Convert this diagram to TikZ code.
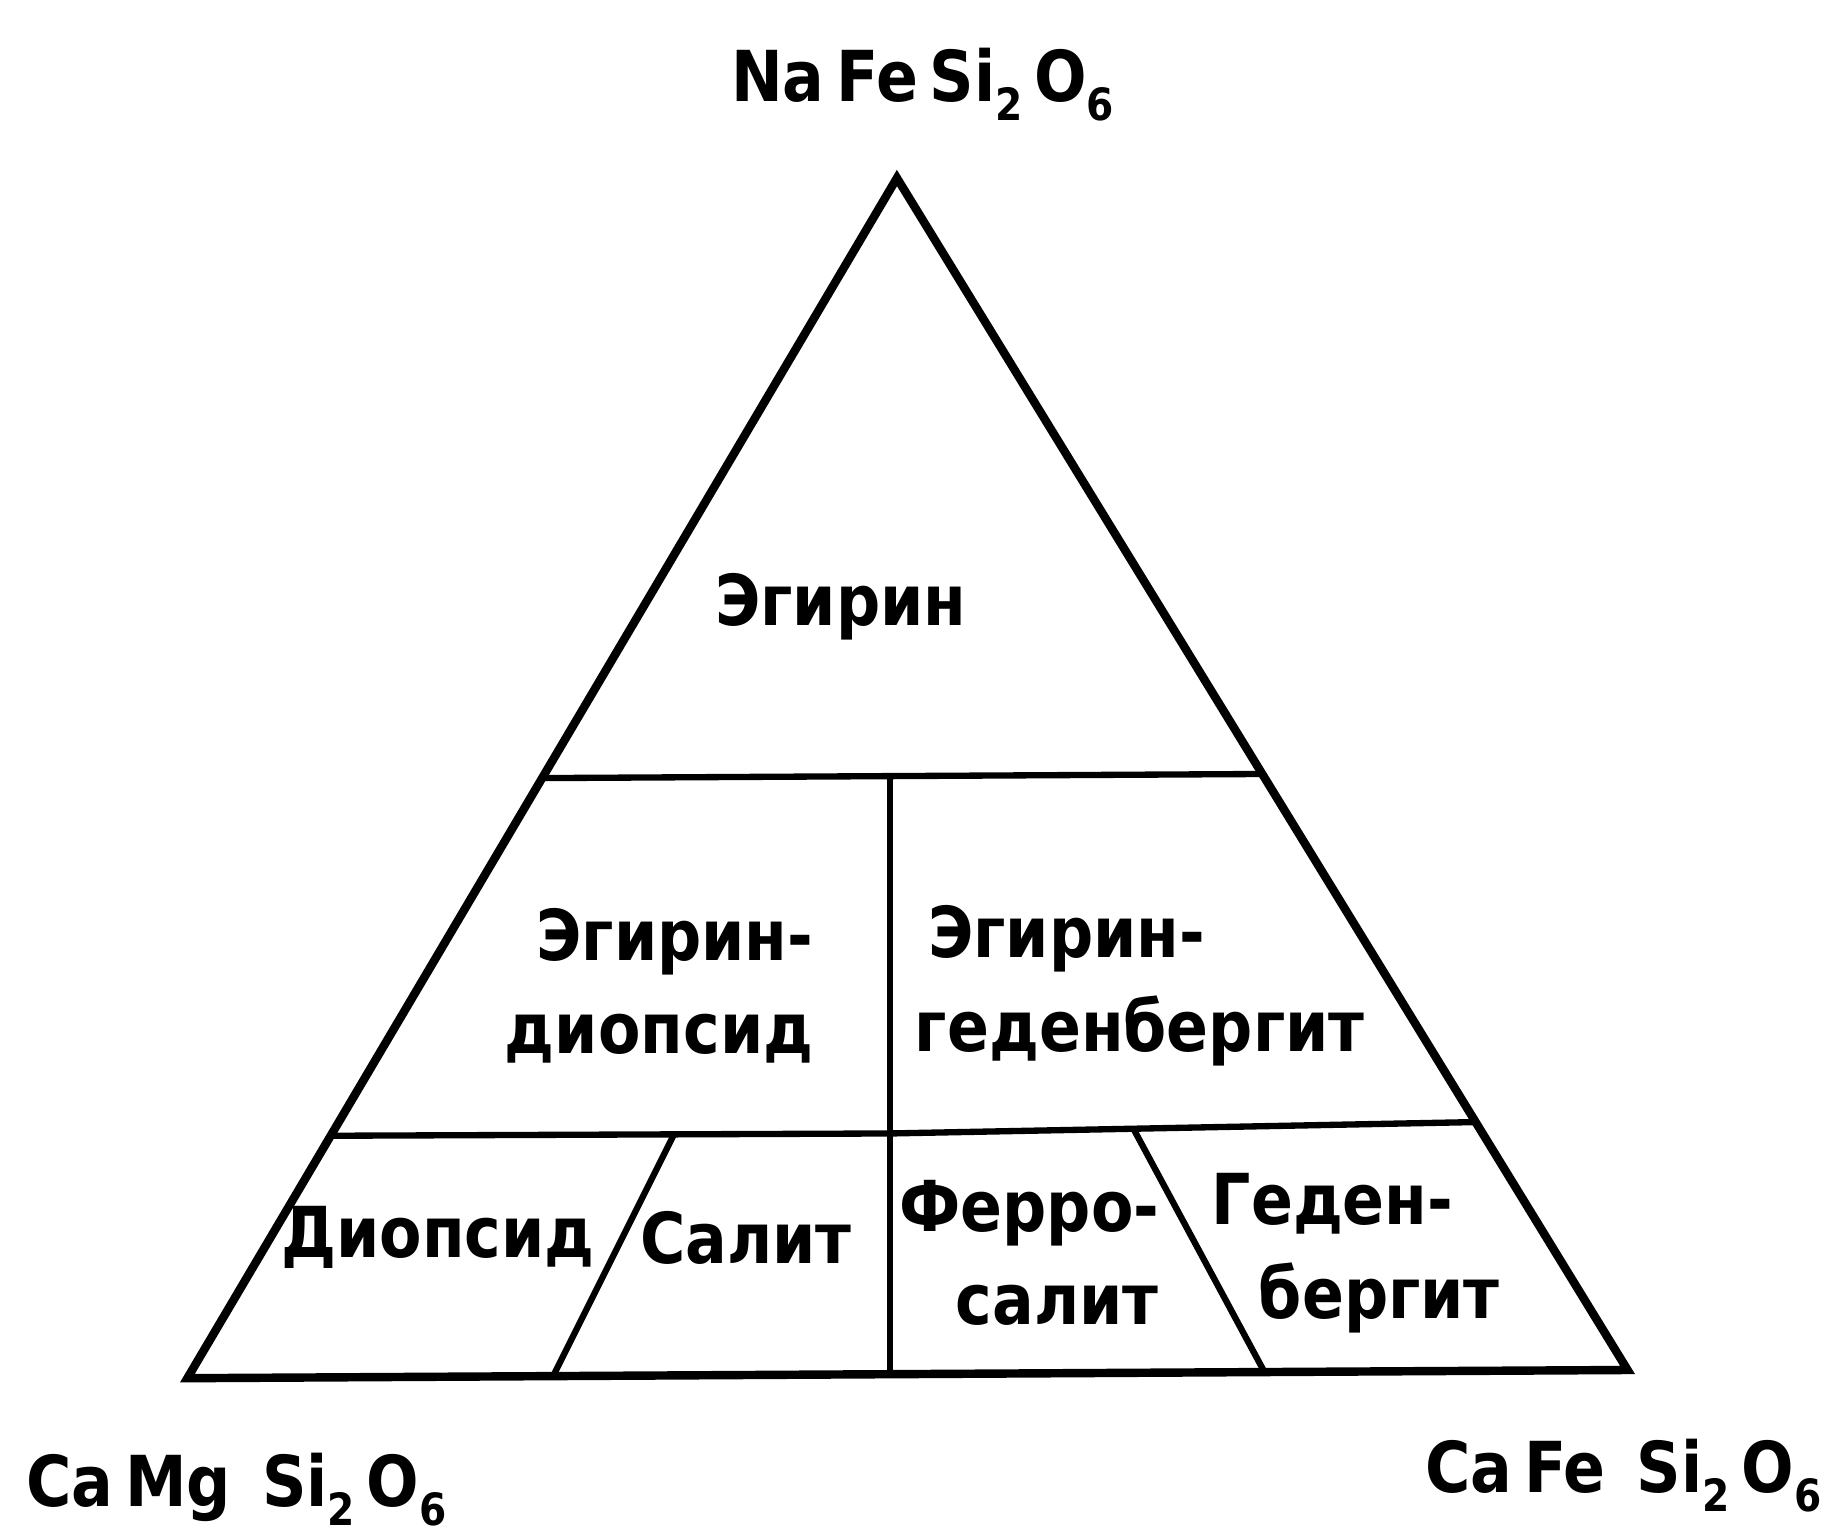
\documentclass[tikz,border=0pt]{standalone}
\usepackage{fontspec}
\setmainfont{DejaVu Sans}[FakeStretch=0.88]
\usetikzlibrary{calc}
\newcommand\chsub[1]{\raisebox{-8pt}{\fontsize{19}{19}\selectfont #1}}
\begin{document}
\begin{tikzpicture}[x=0.5pt,y=-0.5pt,
  outline/.style={line width=3.6pt,line join=miter},
  divider/.style={line width=2.7pt},
  lbl/.style={font=\fontsize{30}{40}\selectfont\bfseries,inner sep=0pt},
  formula/.style={font=\fontsize{30}{36}\selectfont\bfseries,inner sep=0pt}]
\useasboundingbox (0,0) rectangle (1568,1313);
% vertices
\coordinate (A) at (766,152);
\coordinate (L) at (160,1177);
\coordinate (R) at (1390,1170);
% division points
\coordinate (H1l) at ($(A)!0.5!(L)$);
\coordinate (H1r) at ($(A)!0.5!(R)$);
\coordinate (H2l) at ($(A)!0.798!(L)$);
\coordinate (H2r) at ($(A)!0.792!(R)$);
\coordinate (Vt) at (760,662);
\coordinate (Vm) at (760,968);
\coordinate (Vb) at (760,1174);
\coordinate (Dlt) at (575,970);
\coordinate (Dlb) at (472,1176);
\coordinate (Drt) at (968,964);
\coordinate (Drb) at (1080,1172);
% lines
\draw[outline] (A) -- (L) -- (R) -- cycle;
\draw[divider] (H1l) -- (H1r);
\draw[divider] (H2l) -- (Vm) -- (H2r);
\draw[divider] (Vt) -- (Vb);
\draw[divider] (Dlt) -- (Dlb);
\draw[divider] (Drt) -- (Drb);
% labels
\node[formula] (top) at (788,72) {Na\,Fe\,Si\chsub{2}\,O\chsub{6}};
\node[formula,anchor=west] (bl) at (22,1272) {Ca\,Mg\;\,Si\chsub{2}\,O\chsub{6}};
\node[formula,anchor=east] (br) at (1556,1260) {Ca\,Fe\;\,Si\chsub{2}\,O\chsub{6}};
\node[lbl] (egir) at (718,518) {Эгирин};
\node[lbl,align=right,anchor=east] (egdi) at (695,842) {Эгирин-\\диопсид};
\node[lbl,align=left,anchor=west] (egge) at (781,842) {\hspace{14\pgflinewidth}Эгирин-\\геденбергит};
\node[lbl] (diop) at (374,1057) {Диопсид};
\node[lbl] (salit) at (637,1057) {Салит};
\node[lbl,align=center] (ferro) at (879,1070) {Ферро-\\\hspace*{24pt}салит};
\node[lbl,align=center] (geden) at (1138,1070) {Геден-\\\hspace*{40pt}бергит};
\end{tikzpicture}
\end{document}
